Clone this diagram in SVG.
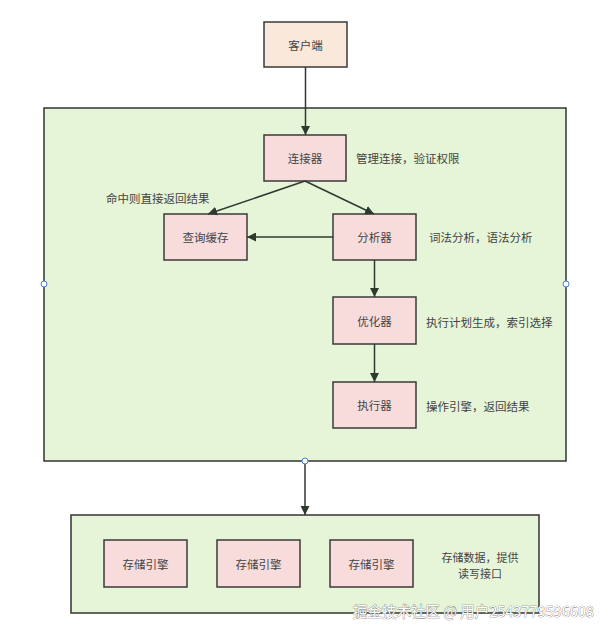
<svg xmlns="http://www.w3.org/2000/svg" width="605" height="636" viewBox="0 0 605 636">
<style>
text{font-family:"Noto Sans CJK SC","Liberation Sans",sans-serif;font-size:11.5px;fill:#444}
.c{text-anchor:middle;dominant-baseline:central}
.l{dominant-baseline:central}
.box{fill:#f8dcdc;stroke:#3a3a3a;stroke-width:1.5}
.grp{fill:#e6f4d8;stroke:#333;stroke-width:1.5}
.ln{stroke:#2f3a2f;stroke-width:1.5;fill:none}
.h{fill:#fff;stroke:#4a7fd0;stroke-width:1}
</style>
<defs>
<marker id="a" viewBox="0 0 10 10" refX="10" refY="5" markerWidth="9" markerHeight="9" markerUnits="userSpaceOnUse" orient="auto">
<path d="M0,0 L10,5 L0,10 Z" fill="#2f3a2f"/>
</marker>
</defs>
<rect width="605" height="636" fill="#fff"/>
<g id="server"><rect class="grp" x="44" y="108" width="522" height="353"/></g>
<g id="storage"><rect class="grp" x="71" y="515" width="468" height="98"/></g>
<g id="client"><rect x="264" y="22" width="83" height="45" fill="#fae8da" stroke="#3a3a3a" stroke-width="1.5"/><text class="c" x="305.5" y="44.5">客户端</text></g>
<g id="connector"><rect class="box" x="264" y="135" width="82" height="46"/><text class="c" x="305" y="158">连接器</text></g>
<g id="cache"><rect class="box" x="164" y="214" width="83" height="46"/><text class="c" x="205.5" y="237">查询缓存</text></g>
<g id="analyzer"><rect class="box" x="333" y="214" width="83" height="46"/><text class="c" x="374.5" y="237">分析器</text></g>
<g id="optimizer"><rect class="box" x="333" y="297" width="83" height="47"/><text class="c" x="374.5" y="321">优化器</text></g>
<g id="executor"><rect class="box" x="333" y="382" width="83" height="46"/><text class="c" x="374.5" y="405">执行器</text></g>
<g id="engine1"><rect class="box" x="104" y="540" width="83" height="47"/><text class="c" x="145.5" y="563.5">存储引擎</text></g>
<g id="engine2"><rect class="box" x="217" y="540" width="83" height="47"/><text class="c" x="258.5" y="563.5">存储引擎</text></g>
<g id="engine3"><rect class="box" x="330" y="540" width="83" height="47"/><text class="c" x="371.5" y="563.5">存储引擎</text></g>
<g id="labels">
<text class="l" x="356" y="158">管理连接，验证权限</text>
<text class="l" x="106" y="198">命中则直接返回结果</text>
<text class="l" x="429" y="237">词法分析，语法分析</text>
<text class="l" x="426" y="322">执行计划生成，索引选择</text>
<text class="l" x="426" y="406">操作引擎，返回结果</text>
<text class="c" x="480" y="557" style="font-size:11px">存储数据，提供</text>
<text class="c" x="480" y="573" style="font-size:11px">读写接口</text>
</g>
<g id="connectors">
<line class="ln" x1="305.5" y1="67" x2="305.5" y2="135" marker-end="url(#a)"/>
<line class="ln" x1="305" y1="181" x2="208" y2="214" marker-end="url(#a)"/>
<line class="ln" x1="305" y1="181" x2="374" y2="214" marker-end="url(#a)"/>
<line class="ln" x1="333" y1="237" x2="247" y2="237" marker-end="url(#a)"/>
<line class="ln" x1="374.5" y1="260" x2="374.5" y2="297" marker-end="url(#a)"/>
<line class="ln" x1="374.5" y1="344" x2="374.5" y2="382" marker-end="url(#a)"/>
<line class="ln" x1="305" y1="461" x2="305" y2="515" marker-end="url(#a)"/>
</g>
<g id="handles">
<circle class="h" cx="44" cy="284" r="3"/>
<circle class="h" cx="566" cy="284" r="3"/>
<circle class="h" cx="305" cy="461" r="3"/>
</g>
<text x="353" y="617" style="font-size:14.5px;fill:#fff;stroke:#666;stroke-width:0.6;paint-order:stroke">掘金技术社区 @ 用户2543779596608</text>
</svg>
